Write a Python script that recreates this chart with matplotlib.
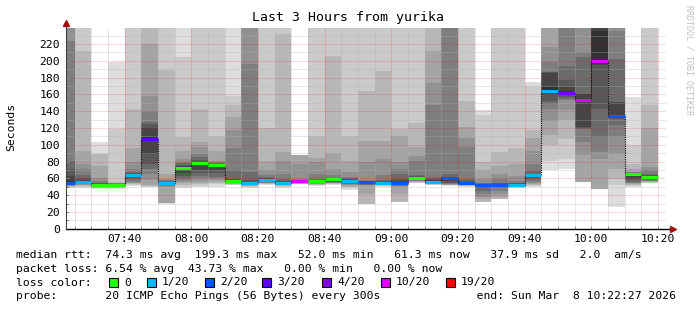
import matplotlib
matplotlib.use("Agg")
import matplotlib.pyplot as plt
from matplotlib.patches import Rectangle
import numpy as np

# 3 hour window, 5 minute bins (first bin is cut by the window)
win_start = 7 * 60 + 22 + 27 / 60.0
win_end = 10 * 60 + 22 + 27 / 60.0
bin_start = 7 * 60 + 20
bin_len = 5

# median rtt per bin (ms) and lost pings (of 20)
median_ms = [54.4, 55.6, 52.4, 52.4, 64.3, 106.3, 54.4, 72.2, 78.2, 76.2,
             56.7, 54.0, 57.5, 54.4, 56.3, 56.7, 58.7, 56.7, 55.2, 54.8,
             54.8, 60.7, 56.0, 60.3, 54.8, 52.0, 52.4, 52.4, 64.3, 164.0,
             162.0, 153.6, 199.3, 134.5, 65.5, 61.3]
loss = [2, 1, 0, 0, 1, 3, 1, 0, 0, 0,
        0, 1, 1, 1, 10, 0, 0, 1, 2, 1,
        2, 0, 1, 2, 2, 2, 2, 1, 1, 1,
        4, 10, 10, 2, 0, 0]

# sorted ping times per bin (ms), values above the top are clipped
pings = [
    [49, 49.5, 50, 50.5, 51, 51.5, 52, 52.5, 53, 54, 57, 63, 71, 81, 224, 250, 250, 250, 250, 250],
    [49, 50, 51, 52, 52.5, 53, 53.5, 54, 54.5, 55, 56.5, 58, 60, 63.5, 71, 77, 93, 212, 250, 250],
    [47, 48, 49, 49.5, 50, 50.5, 51, 51.5, 52, 52.2, 52.6, 53, 54, 55, 57, 60, 75, 88.5, 89, 103],
    [47, 48, 49, 49.5, 50, 50.5, 51, 51.5, 52, 52.2, 52.6, 53, 53.3, 53.6, 54, 54.5, 55, 55.5, 119, 199],
    [51, 52, 53, 54, 55, 56, 58, 60, 62, 63, 65, 65.5, 66, 67, 71, 80, 96, 142, 250, 250],
    [49.5, 50, 50.5, 52, 57.5, 65, 71, 77, 89, 104, 109, 120, 125, 127, 139, 158, 220, 250, 250, 250],
    [30, 30.3, 30.6, 31, 50, 51, 52, 53, 53.5, 54, 55, 55.5, 56, 57, 58, 59.5, 65.5, 189, 250, 250],
    [49, 50, 52, 54, 56, 58, 60, 63, 66, 70, 73.5, 75, 76, 78, 80, 83, 93, 109, 204, 250],
    [50, 51, 53, 55, 57, 60, 63, 66, 70, 76, 79, 80, 82, 85, 89, 97, 103, 142, 250, 250],
    [50, 53.5, 55, 56, 58, 60, 62, 66, 70, 75, 76.5, 77, 77.5, 78, 79, 81, 93, 111, 250, 250],
    [52, 52.5, 53, 53.5, 54, 54.5, 55, 55.5, 56, 56.5, 57.2, 58, 59.5, 69.4, 96, 118, 133, 147, 158, 250],
    [49, 50, 50.5, 51, 51.5, 52, 52.5, 53, 53.2, 53.5, 55, 56, 57.5, 67.5, 196, 250, 250, 250, 250, 250],
    [52, 53, 53.5, 54, 54.5, 55, 55.5, 56, 56.5, 57, 58, 59, 60, 61, 63.5, 69.4, 81, 120, 250, 250],
    [49, 50, 51, 51.5, 52, 52.5, 53, 53.3, 53.6, 54, 55, 56, 57, 59.5, 65.5, 81, 91, 232, 250, 250],
    [53, 53.2, 53.5, 53.8, 54, 54.3, 54.5, 54.8, 55, 55.5, 56.8, 57, 57.2, 57.5, 59.5, 77, 88, 88, 88, 88],
    [51, 52, 52.5, 53, 53.5, 54, 54.5, 55, 55.5, 56, 57.3, 58, 58.5, 59.5, 65.5, 79, 84, 111, 250, 250],
    [52, 53, 53.5, 54, 54.5, 55, 55.5, 56, 56.5, 57, 59, 59.5, 60, 60.3, 63.5, 71.4, 90, 206, 250, 250],
    [46, 48, 50, 51, 52, 53, 53.5, 54, 55, 55.5, 57.3, 58, 59, 60, 61.5, 67.5, 81, 110, 250, 250],
    [29.5, 29.6, 29.8, 41.7, 51.5, 52, 52.5, 53, 54, 54.5, 56, 56.5, 57, 57.3, 57.5, 80, 105, 164, 250, 250],
    [50, 51, 51.5, 52, 52.5, 53, 53.5, 54, 54.2, 54.5, 55.5, 56, 56.5, 57.5, 63.5, 83, 105, 188, 250, 250],
    [31.3, 31.5, 31.7, 41.7, 50, 51, 52, 53, 53.5, 54, 56, 57, 59.5, 65.5, 71.4, 79, 111, 119, 250, 250],
    [54, 55, 55.5, 56, 56.5, 57, 57.5, 58, 59, 59.5, 61.5, 62, 62.5, 63.5, 81, 87, 97, 126, 250, 250],
    [52, 52.5, 53, 53.5, 54, 54.3, 54.6, 55, 55.2, 55.5, 57, 58, 59, 61.5, 147, 173, 212, 250, 250, 250],
    [51, 51.5, 52, 52.5, 53, 53.5, 54, 55, 57, 59.5, 60.7, 61, 61.5, 65.5, 250, 250, 250, 250, 250, 250],
    [50, 50.5, 51, 51.5, 52, 52.5, 53, 53.3, 53.6, 54, 55.3, 56, 56.5, 59.5, 97, 108, 121, 151.6, 250, 250],
    [31.3, 31.5, 31.7, 35, 38, 41.7, 45, 49, 50, 51, 52.5, 53, 53.5, 54, 55, 59.5, 69.4, 79.4, 135, 141],
    [35.3, 35.5, 35.7, 38, 41.7, 45, 48, 50, 51, 52, 53, 53.5, 54, 54.4, 59.5, 65.5, 75, 91, 250, 250],
    [48, 49, 49.5, 50, 50.5, 51, 51.3, 51.6, 51.8, 52, 53, 53.5, 54, 55, 56.3, 62.7, 77.4, 96, 250, 250],
    [50, 51, 52, 53, 54, 56, 58, 60, 62, 63, 64.6, 65, 65.5, 69.4, 77.4, 93, 108, 117, 170, 175],
    [69.4, 80.2, 100, 112, 128, 143, 149, 152, 160.7, 162.5, 169, 186, 186.5, 187, 199, 216, 250, 250, 250, 250],
    [71.4, 83, 107, 129, 141, 153, 155, 157, 159, 160.5, 163.5, 168.7, 176.6, 194, 250, 250, 250, 250, 250, 250],
    [55.6, 55.6, 55.6, 55.6, 87.3, 103, 119, 120, 121, 152, 155, 160.7, 161, 204, 210, 250, 250, 250, 250, 250],
    [47.6, 47.6, 47.6, 47.6, 83.3, 91.3, 109, 143, 194.4, 196, 235, 250, 250, 250, 250, 250, 250, 250, 250, 250],
    [25.8, 51.6, 59.5, 71.4, 89.3, 109, 123, 131, 132, 133.5, 136, 150.8, 151, 202, 236, 250, 250, 250, 250, 250],
    [49.6, 51, 52, 53, 54, 55, 56, 57.5, 60, 62.7, 65.9, 66.2, 66.4, 66.7, 67, 67.5, 71.4, 77.4, 99.2, 156.7],
    [54, 55, 55.5, 56, 56.5, 57, 58, 59, 60, 60.5, 62, 63, 64, 65.5, 69.4, 73.4, 120, 147.6, 250, 250],
]

loss_steps = [0, 1, 2, 3, 4, 10, 19]
loss_labels = ["0", "1/20", "2/20", "3/20", "4/20", "10/20", "19/20"]
loss_colors = ["#26ff00", "#00b8ff", "#0059ff", "#5e00ff", "#7e00ff", "#dd00ff", "#ff0000"]

x_ticks = [460, 480, 500, 520, 540, 560, 580, 600, 620]
x_tick_labels = ["07:40", "08:00", "08:20", "08:40", "09:00", "09:20", "09:40", "10:00", "10:20"]
y_ticks = [0, 20, 40, 60, 80, 100, 120, 140, 160, 180, 200, 220]

stats_lines = [
    "median rtt:  74.3 ms avg  199.3 ms max   52.0 ms min   61.3 ms now   37.9 ms sd   2.0  am/s",
    "packet loss: 6.54 % avg  43.73 % max   0.00 % min   0.00 % now",
    "loss color:",
    "probe:       20 ICMP Echo Pings (56 Bytes) every 300s              end: Sun Mar  8 10:22:27 2026",
]

MONO = "DejaVu Sans Mono"
plt.rcParams["font.family"] = MONO

W, H = 697, 310
fig = plt.figure(figsize=(W / 100, H / 100), dpi=100)
fig.patch.set_facecolor("white")
ax_l, ax_r, ax_t, ax_b = 66, 666, 27.7, 228.7
ax = fig.add_axes([ax_l / W, 1 - ax_b / H, (ax_r - ax_l) / W, (ax_b - ax_t) / H])

n = len(pings)
lefts = np.array([max(bin_start + k * bin_len, win_start) for k in range(n)])
rights = np.array([bin_start + (k + 1) * bin_len for k in range(n)])
P = np.array(pings, dtype=float)

# smoke: band ibot spans ping[ibot] .. ping[21-ibot], darker towards the middle
for ibot in range(1, 11):
    g = int(190 / 10 * (10 - ibot)) + 50
    col = "#%02x%02x%02x" % (g, g, g)
    lo = P[:, ibot - 1]
    hi = P[:, 20 - ibot]
    ax.bar(lefts, hi - lo, bottom=lo, width=rights - lefts, align="edge",
           color=col, linewidth=0, antialiased=False, zorder=1)

# median line
def loss_color(l):
    for s, c in zip(loss_steps, loss_colors):
        if l <= s:
            return c
    return loss_colors[-1]

xs = list(lefts) + [rights[-1]]
ys = list(median_ms) + [median_ms[-1]]
ax.step(xs, ys, where="post", color="black", lw=0.8, ls=(0, (1, 1)), zorder=3)
ax.hlines(median_ms, lefts, rights, colors=[loss_color(l) for l in loss],
          lw=2.2, zorder=4)

ax.set_xlim(win_start, win_end)
ax.set_ylim(0, 239.4)
ax.set_xticks(x_ticks)
ax.set_xticklabels(x_tick_labels)
ax.set_xticks(np.arange(445, 622, 5), minor=True)
ax.set_yticks(y_ticks)
ax.set_yticklabels([str(v) for v in y_ticks])
ax.set_yticks(np.arange(10, 240, 10), minor=True)

ax.set_axisbelow(False)
ax.grid(which="major", color="#ff0000", alpha=0.3, ls=(0, (1, 1)), lw=0.72)
ax.grid(which="minor", color="#b0b0b0", alpha=0.6, ls=(0, (1, 1)), lw=0.72)
ax.tick_params(which="both", direction="in", length=2, width=0.7, colors="#909090",
               labelcolor="black", labelsize=8.2)
ax.tick_params(axis="x", pad=3.6)
ax.tick_params(axis="y", pad=4.2)

for s in ["top", "right", "bottom", "left"]:
    ax.spines[s].set_visible(False)
# axes with arrows
ax.plot([0, 1.012], [0, 0], transform=ax.transAxes, clip_on=False, color="black", lw=1, zorder=5)
ax.plot([0, 0], [0, 1.02], transform=ax.transAxes, clip_on=False, color="#404040", lw=0.8, zorder=5)
ax.plot([1.012], [0], transform=ax.transAxes, clip_on=False, marker=">", ms=4, color="#a01010", zorder=6)
ax.plot([0], [1.022], transform=ax.transAxes, clip_on=False, marker="^", ms=4, color="#a01010", zorder=6)

fig.text(0.5, 1 - 18 / H, "Last 3 Hours from yurika", ha="center", va="center", fontsize=9.5)
fig.text(11 / W, 1 - 127 / H, "Seconds", rotation=90, ha="center", va="center", fontsize=8.2)
fig.text(689 / W, 1 - 60 / H, "RRDTOOL / TOBI OETIKER", rotation=270, ha="center", va="center",
         fontsize=6, color="#c0c0c0")

line_y = [255, 268.5, 282.5, 296]
for txt, y in zip(stats_lines, line_y):
    fig.text(16.5 / W, 1 - y / H, txt, ha="left", va="center", fontsize=8.2)

box_x = [109, 147, 205, 262, 322, 381, 446]
for bx, lab, c in zip(box_x, loss_labels, loss_colors):
    fig.patches.append(Rectangle((bx / W, 1 - (line_y[2] + 4.5) / H), 9 / W, 9 / H,
                                 transform=fig.transFigure, facecolor=c,
                                 edgecolor="black", lw=0.8))
    fig.text((bx + 15) / W, 1 - line_y[2] / H, lab, ha="left", va="center", fontsize=8.2)

fig.savefig("out.png", dpi=100)
